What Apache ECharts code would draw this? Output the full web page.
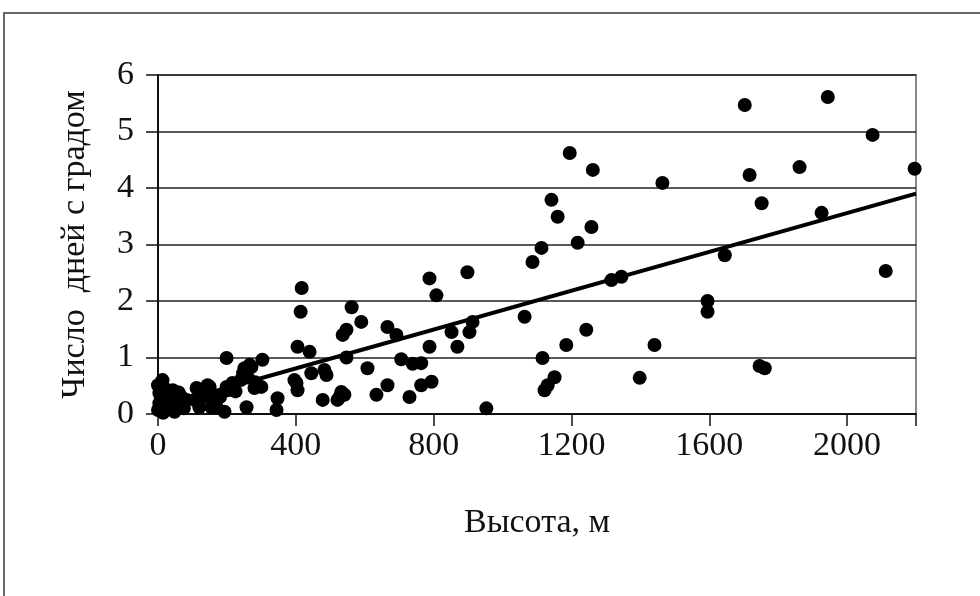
<!DOCTYPE html>
<html>
<head>
<meta charset="utf-8">
<script src="https://cdn.jsdelivr.net/npm/echarts@6/dist/echarts.min.js"></script>
<style>
  html, body { margin: 0; padding: 0; background: #fff; }
  #chart { width: 980px; height: 596px; }
</style>
</head>
<body>
<div id="chart"></div>
<script>
// высота станции (м) и число дней с градом
var heights = [
  0, 13, 4, 4, 0, 10, 25, 33, 20, 43, 48, 68, 83, 55, 30, 60, 15, 40, 75, 5,
  112, 106, 120, 144, 155, 150, 170, 155, 199, 199, 193, 216, 202, 251, 257, 266, 247, 282, 300, 271, 303, 260, 280, 130, 180, 225, 240,
  417, 414, 405, 440, 402, 405, 445, 489, 478, 521, 347, 344, 396, 483, 532, 536, 562, 590, 547, 547, 527, 541,
  608, 634, 666, 666, 692, 706, 730, 739, 764, 764, 788, 788, 794, 808, 852, 869, 898, 904, 913, 953,
  1064, 1087, 1113, 1116, 1122, 1131, 1151, 1142, 1160, 1185, 1195, 1218, 1243, 1258, 1262, 1316, 1345, 1398, 1441, 1464,
  1595, 1595, 1645, 1703, 1717, 1746, 1761, 1752, 1862, 1926, 1944, 2074, 2112, 2196
];
var hailDays = [
  0.51, 0.6, 0.37, 0.19, 0.07, 0.28, 0.12, 0.3, 0.45, 0.42, 0.04, 0.3, 0.25, 0.2, 0.15, 0.38, 0.02, 0.22, 0.1, 0.12,
  0.46, 0.25, 0.12, 0.51, 0.34, 0.48, 0.12, 0.12, 0.99, 0.48, 0.04, 0.55, 0.42, 0.81, 0.12, 0.87, 0.72, 0.56, 0.48, 0.83, 0.96, 0.65, 0.46, 0.3, 0.3, 0.4, 0.6,
  2.23, 1.81, 1.19, 1.1, 0.55, 0.42, 0.72, 0.69, 0.25, 0.25, 0.28, 0.07, 0.6, 0.78, 0.39, 1.4, 1.89, 1.63, 1.49, 1.0, 0.3, 0.34,
  0.81, 0.34, 0.51, 1.54, 1.4, 0.97, 0.3, 0.89, 0.9, 0.51, 1.19, 2.4, 0.57, 2.1, 1.45, 1.19, 2.51, 1.45, 1.63, 0.1,
  1.72, 2.69, 2.94, 0.99, 0.42, 0.51, 0.65, 3.79, 3.49, 1.22, 4.62, 3.03, 1.49, 3.31, 4.32, 2.37, 2.43, 0.64, 1.22, 4.09,
  2.0, 1.81, 2.81, 5.47, 4.23, 0.85, 0.81, 3.73, 4.37, 3.56, 5.61, 4.94, 2.53, 4.34
];
// линейный тренд
var trendX = [0, 2200];
var trendY = [0.12, 3.9];

var xTicks = [0, 400, 800, 1200, 1600, 2000];
var yTicks = [0, 1, 2, 3, 4, 5, 6];

var points = heights.map(function (h, i) { return [h, hailDays[i]]; });
var trend = trendX.map(function (x, i) { return [x, trendY[i]]; });

var font = '"Liberation Serif", "Times New Roman", serif';

var chart = echarts.init(document.getElementById('chart'));
chart.setOption({
  animation: false,
  backgroundColor: '#fff',
  graphic: [{
    type: 'rect',
    shape: { x: 4, y: 13, width: 1000, height: 700 },
    style: { fill: 'none', stroke: '#666', lineWidth: 2 }
  }],
  grid: {
    left: 158, right: 64, top: 75, bottom: 182,
    show: true, borderColor: '#888', borderWidth: 2
  },
  xAxis: {
    type: 'value',
    min: 0, max: 2200, interval: 400,
    name: 'Высота, м',
    nameLocation: 'middle',
    nameGap: 92,
    nameTextStyle: { fontFamily: font, fontSize: 34, color: '#111' },
    axisLine: { lineStyle: { color: '#111', width: 2 } },
    axisTick: { show: true, length: 12, lineStyle: { color: '#111', width: 1.5 } },
    axisLabel: {
      margin: 15, fontFamily: font, fontSize: 34, color: '#111',
      formatter: function (v) { return xTicks.indexOf(v) >= 0 ? v : ''; }
    },
    splitLine: { show: false }
  },
  yAxis: {
    type: 'value',
    min: 0, max: 6, interval: 1,
    name: 'Число  дней с градом',
    nameLocation: 'middle',
    nameGap: 66,
    nameRotate: 90,
    nameTextStyle: { fontFamily: font, fontSize: 34, color: '#111' },
    axisLine: { show: true, lineStyle: { color: '#111', width: 2 } },
    axisTick: { show: true, length: 12, lineStyle: { color: '#111', width: 1.5 } },
    axisLabel: {
      margin: 24, fontFamily: font, fontSize: 34, color: '#111',
      formatter: function (v) { return yTicks.indexOf(v) >= 0 ? v : ''; }
    },
    splitLine: { show: true, lineStyle: { color: '#222', width: 1.5 } }
  },
  series: [
    {
      type: 'scatter',
      data: points,
      symbolSize: 14,
      itemStyle: { color: '#000', opacity: 1 }
    },
    {
      type: 'line',
      data: trend,
      showSymbol: false,
      lineStyle: { color: '#000', width: 4 },
      z: 3
    }
  ]
});
</script>
</body>
</html>
